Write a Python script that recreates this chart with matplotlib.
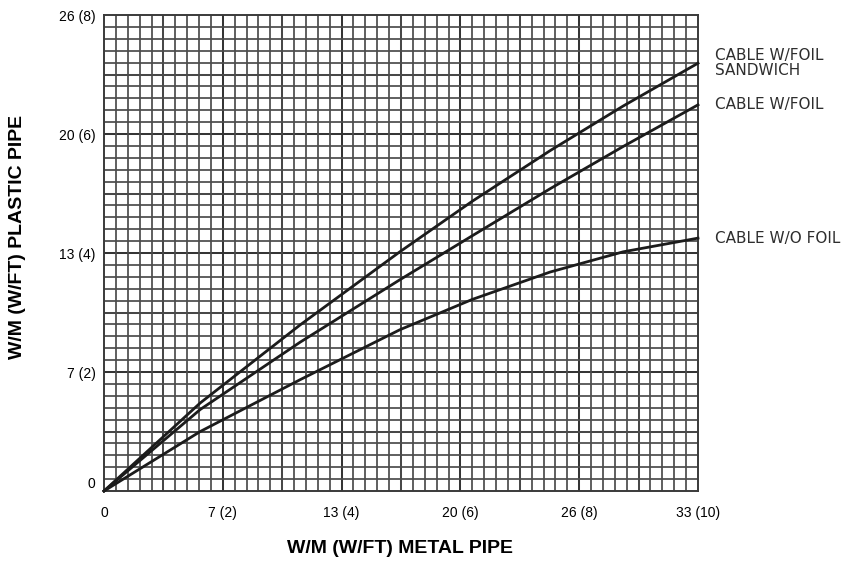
import matplotlib
matplotlib.use('Agg')
import matplotlib.pyplot as plt
import matplotlib.transforms as mtransforms
from matplotlib.ticker import MultipleLocator

# metal pipe output, W/ft
metal = [0, 1.62, 3.30, 4.98, 6.2, 7.51, 8.74, 10]
# plastic pipe output, W/ft, one list per cable type
foil_sandwich = [0, 1.48, 2.79, 4.02, 4.87, 5.72, 6.47, 7.19]
with_foil = [0, 1.37, 2.50, 3.55, 4.29, 5.08, 5.79, 6.49]
without_foil = [0, 1.00, 1.87, 2.71, 3.22, 3.68, 4.02, 4.25]

series_names = ['CABLE W/FOIL\nSANDWICH', 'CABLE W/FOIL', 'CABLE W/O FOIL']

x_ticks = [0, 2, 4, 6, 8, 10]
x_labels = ['0', '7 (2)', '13 (4)', '20 (6)', '26 (8)', '33 (10)']
y_ticks = [0, 2, 4, 6, 8]
y_labels = ['0', '7 (2)', '13 (4)', '20 (6)', '26 (8)']


def main():
	plt.rcParams['font.family'] = ['Liberation Sans', 'DejaVu Sans']

	fig = plt.figure(figsize=(8.51, 5.64), dpi=100)
	ax = fig.add_axes([0.1222, 0.1294, 0.6980, 0.8440])

	ax.set_xlim(0, 10)
	ax.set_ylim(0, 8)

	# graph paper grid
	ax.xaxis.set_minor_locator(MultipleLocator(0.2))
	ax.yaxis.set_minor_locator(MultipleLocator(0.2))
	ax.grid(which='minor', color='#4c4c4c', linewidth=1.25, zorder=1)
	for v in range(1, 10):
		ax.axvline(v, color='#353535', linewidth=1.45, zorder=1)
	for v in range(1, 8):
		ax.axhline(v, color='#353535', linewidth=1.45, zorder=1)

	for s in ax.spines.values():
		s.set_color('#3a3a3a')
		s.set_linewidth(1.4)

	ax.set_xticks(x_ticks)
	ax.set_xticklabels(x_labels)
	ax.set_yticks(y_ticks)
	ax.set_yticklabels(y_labels)
	ax.tick_params(which='both', length=0)
	ax.tick_params(axis='x', pad=11, labelsize=10)
	ax.tick_params(axis='y', pad=6, labelsize=10)

	# the "0" on the plastic pipe axis sits a little above the corner
	zero = ax.get_yticklabels()[0]
	zero.set_transform(zero.get_transform() + mtransforms.ScaledTranslation(0, 0.09, fig.dpi_scale_trans))

	for ys in [foil_sandwich, with_foil, without_foil]:
		ax.plot(metal, ys, color='#1c1c1c', linewidth=2.0, zorder=3, clip_on=False)

	# curve names to the right of the plot
	label_y = [foil_sandwich[-1], with_foil[-1], without_foil[-1]]
	for name, yv in zip(series_names, label_y):
		ax.annotate(name, xy=(10, yv), xytext=(12, 0), textcoords='offset points',
			va='center', ha='left', fontsize=11, family='DejaVu Sans',
			color='#2e2e2e', annotation_clip=False, linespacing=1.0)

	fig.text(0.470, 0.027, 'W/M (W/FT) METAL PIPE', ha='center', va='center',
		fontsize=14, fontweight='bold')
	fig.text(0.021, 0.58, 'W/M (W/FT) PLASTIC PIPE', ha='center', va='center',
		rotation=90, fontsize=14, fontweight='bold')

	fig.savefig('out.png', dpi=100)
	plt.close()


if __name__ == '__main__':
	main()
